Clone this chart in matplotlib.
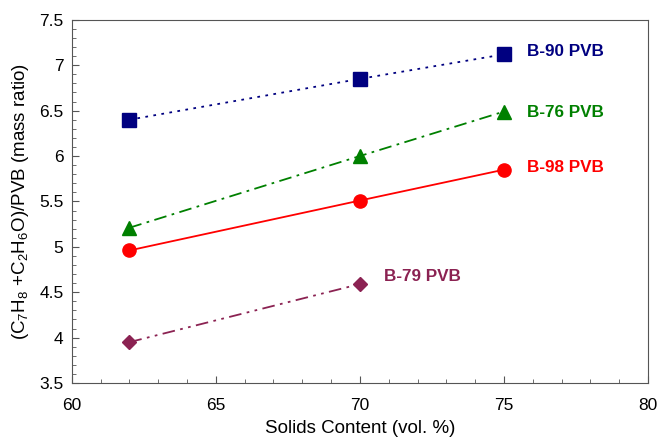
import numpy as np
import matplotlib.pyplot as plt
from matplotlib.ticker import MultipleLocator

plt.rcParams['font.family'] = ['Liberation Sans', 'DejaVu Sans']
plt.rcParams['mathtext.fontset'] = 'custom'
plt.rcParams['mathtext.rm'] = 'Liberation Sans'
plt.rcParams['mathtext.it'] = 'Liberation Sans:italic'

# 数据
x_b90 = [62, 70, 75]
y_b90 = [6.40, 6.85, 7.12]
x_b76 = [62, 70, 75]
y_b76 = [5.21, 6.00, 6.49]
x_b98 = [62, 70, 75]
y_b98 = [4.96, 5.51, 5.85]
x_b79 = [62, 70]
y_b79 = [3.95, 4.59]

labels = ["B-90 PVB", "B-76 PVB", "B-98 PVB", "B-79 PVB"]
label_x = [75.8, 75.8, 75.8, 70.85]
label_y = [7.15, 6.48, 5.87, 4.67]

c90 = "#000080"
c76 = "#008000"
c98 = "#ff0000"
c79 = "#8b2252"

fig = plt.figure(figsize=(6.58, 4.41), dpi=100)
ax = fig.add_axes([0.109, 0.1315, 0.876, 0.8235])

ax.plot(x_b90, y_b90, color=c90, linestyle=(0, (1.5, 3)), linewidth=1.3,
        marker='s', markersize=9.5)
ax.plot(x_b76, y_b76, color=c76, linestyle=(0, (7, 3, 1.5, 3)), linewidth=1.3,
        marker='^', markersize=9.5)
ax.plot(x_b98, y_b98, color=c98, linestyle='-', linewidth=1.3,
        marker='o', markersize=9.5)
ax.plot(x_b79, y_b79, color=c79, linestyle=(0, (7, 3, 1.5, 3, 1.5, 3)), linewidth=1.3,
        marker='D', markersize=7)

for lab, lx, ly, c in zip(labels, label_x, label_y, [c90, c76, c98, c79]):
    ax.text(lx, ly, lab, color=c, fontsize=12.3, fontweight='bold',
            ha='left', va='center')

ax.set_xlim(60, 80)
ax.set_ylim(3.5, 7.5)
ax.xaxis.set_major_locator(MultipleLocator(5))
ax.xaxis.set_minor_locator(MultipleLocator(1))
ax.yaxis.set_major_locator(MultipleLocator(0.5))
ax.yaxis.set_minor_locator(MultipleLocator(0.1))
ax.yaxis.set_major_formatter(plt.FuncFormatter(lambda v, p: f"{v:g}"))
ax.tick_params(which='both', direction='in', labelsize=12.5, color='#555555')
ax.tick_params(which='major', length=5)
ax.tick_params(which='minor', length=3)
ax.tick_params(axis='x', pad=11)
ax.tick_params(axis='y', pad=6)
for s in ax.spines.values():
    s.set_color('#555555')

ax.set_xlabel("Solids Content (vol. %)", fontsize=13.5, labelpad=5)
ax.set_ylabel(r"(C$_7$H$_8$ +C$_2$H$_6$O)/PVB (mass ratio)", fontsize=13.5, labelpad=6)

plt.savefig("out.png", dpi=100)
